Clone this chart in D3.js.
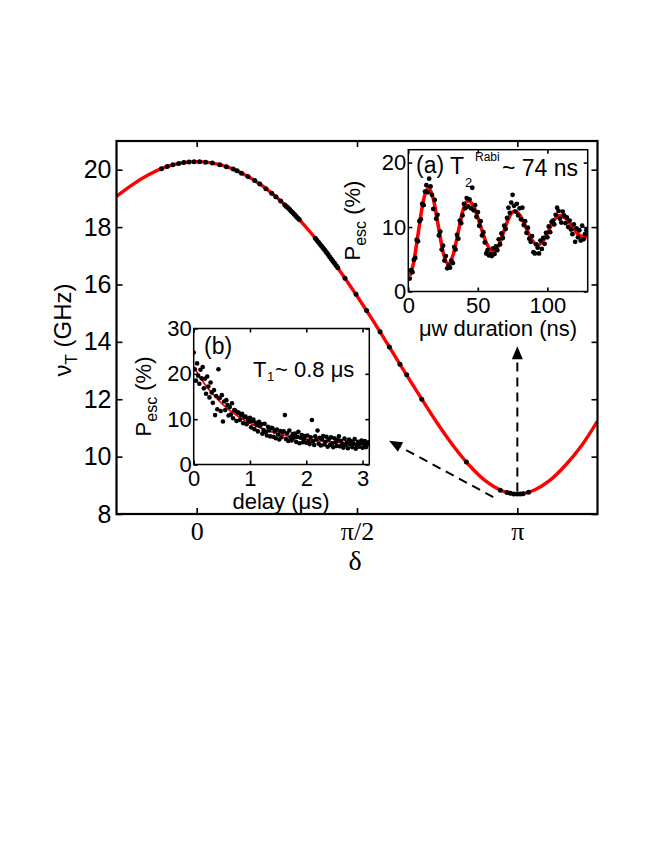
<!DOCTYPE html>
<html><head><meta charset="utf-8">
<script src="https://cdn.jsdelivr.net/npm/d3@7"></script>
<style>body{margin:0;background:#fff} svg{display:block}</style>
</head><body><div id="chart"></div>
<script>
// ---------------- DATA ----------------
// main curve: delta in units of pi, nu_T in GHz
const curveDelta = [-0.25,-0.2,-0.15,-0.1,-0.05,0,0.05,0.1,0.15,0.2,0.25,0.3,0.35,0.4,0.45,0.5,0.55,0.6,0.65,0.7,0.75,0.8,0.85,0.9,0.95,1.0,1.05,1.1,1.15,1.2,1.25];
const curveNu    = [19.07,19.48,19.82,20.08,20.23,20.28,20.23,20.08,19.82,19.48,19.03,18.50,17.88,17.19,16.42,15.60,14.74,13.84,12.93,12.04,11.17,10.38,9.70,9.16,8.82,8.70,8.82,9.16,9.70,10.38,11.24];
// measured points on main curve
const dotDelta = [-0.110,-0.092,-0.074,-0.056,-0.040,-0.024,-0.008,0.009,0.028,0.049,0.072,0.093,0.114,0.126,0.140,0.160,0.181,0.197,0.216,0.234,0.247,0.262,
  0.275,0.280,0.285,0.290,0.295,0.300,0.305,0.310,0.315,0.320,
  0.370,0.375,0.380,0.385,0.390,0.395,0.400,0.405,0.410,0.415,0.420,0.425,0.430,0.435,0.440,
  0.4625,0.497,0.530,0.572,0.601,0.634,0.655,0.702,0.841,0.947,0.968,0.978,0.989,1.000,1.009,1.018,1.035];
const dotNu = [20.03,20.11,20.17,20.22,20.25,20.27,20.28,20.28,20.26,20.23,20.17,20.10,20.02,19.96,19.88,19.76,19.62,19.50,19.34,19.18,19.06,18.91,
  18.77,18.72,18.67,18.61,18.55,18.50,18.44,18.38,18.32,18.26,
  17.61,17.54,17.47,17.40,17.33,17.26,17.19,17.11,17.04,16.96,16.89,16.81,16.74,16.66,16.58,
  16.22,15.66,15.09,14.35,13.82,13.22,12.85,12.00,9.81,8.83,8.75,8.72,8.70,8.70,8.70,8.71,8.76];
const mainXTicks = [0, 0.5, 1];
const mainXTickLabels = ["0", "\u03c0/2", "\u03c0"];
const mainYTicks = [8, 10, 12, 14, 16, 18, 20];

// inset (a): Rabi oscillation
const rabiCurveT = [1.2,3.6,7.2,10.8,14.4,18,21.55,25.1,28.7,32.3,35.85,39.4,43,47.5,52,56.5,61,64.9,68.75,72.6,76.5,80.6,84.75,88.9,93,97,101,105,109,113.4,117.75,122.1,126.5,129];
const rabiCurveP = [2.4,4.24,9.15,14.06,16.1,14.37,10.2,6.03,4.3,5.74,9.2,12.66,14.1,12.94,10.15,7.36,6.2,7.12,9.35,11.58,12.5,11.72,9.85,7.98,7.2,7.87,9.5,11.13,11.8,11.3,10.1,8.9,8.4,8.55];
const rabiT0 = 1, rabiDt = 1; // ns
const rabiP = [2.0,3.3,3.0,4.9,5.2,8.0,7.8,10.9,11.2,13.6,13.4,15.5,16.5,15.4,17.5,16.3,15.0,12.8,14.2,11.3,
  11.9,8.7,9.3,6.5,7.1,4.8,5.5,3.6,4.0,3.7,4.8,4.4,6.9,6.5,8.8,8.2,11.0,10.6,11.8,13.6,
  12.9,14.5,13.2,14.3,12.9,16.1,12.6,13.4,11.6,12.3,10.2,10.9,8.7,9.2,7.6,5.9,6.4,5.6,5.8,5.5,
  6.7,5.8,7.0,6.4,8.1,7.3,9.0,8.3,10.2,9.7,11.4,13.0,12.2,13.8,15.0,13.3,12.4,13.6,11.8,12.9,
  11.2,13.0,10.3,10.9,9.1,9.9,8.2,7.7,8.6,6.1,5.9,7.3,6.8,5.9,7.9,6.6,8.3,7.4,9.1,8.4,
  10.1,9.2,10.8,11.0,10.4,11.9,13.0,12.5,11.3,10.7,12.4,11.8,10.6,11.5,10.0,11.0,9.6,8.9,10.4,7.7,
  9.8,8.4,9.5,7.9,10.2,8.1,8.9,9.5];
const rabiXTicks = [0, 50, 100];
const rabiYTicks = [0, 10, 20];

// inset (b): T1 decay
const t1CurveT = [0,0.2,0.4,0.6,0.8,1.0,1.2,1.4,1.6,1.8,2.0,2.2,2.4,2.6,2.8,3.0,3.12];
const t1CurveP = [21.5,17.66,14.67,12.34,10.53,9.11,8.01,7.16,6.49,5.97,5.57,5.25,5.00,4.81,4.66,4.55,4.49];
const t1T0 = 0, t1Dt = 0.02; // us
const t1P = [24.7,21.0,18.5,22.3,19.6,17.8,20.9,19.0,21.5,16.8,
  18.9,15.6,19.4,17.2,14.8,18.1,15.9,13.6,16.4,10.9,
  15.1,12.2,21.0,14.6,11.8,15.3,9.5,13.9,12.0,14.2,
  13.1,10.8,12.7,11.0,13.5,10.2,12.0,11.9,9.6,11.5,
  11.4,9.8,10.9,11.2,9.1,10.5,10.6,8.9,10.1,9.5,
  10.3,8.2,9.6,9.9,7.8,9.2,8.8,7.3,9.4,8.5,
  8.9,6.8,7.6,9.0,7.1,6.4,8.3,7.5,6.2,8.1,
  8.0,6.1,7.3,5.8,7.7,6.6,5.5,7.4,6.0,7.1,
  7.3,10.9,5.6,6.9,5.2,7.5,6.0,5.3,6.7,5.9,
  6.8,5.0,6.1,7.2,4.7,5.9,6.5,4.9,5.6,6.3,
  4.8,6.4,5.2,4.5,6.0,9.8,5.1,4.3,6.2,5.5,
  7.5,4.6,5.9,4.2,5.6,6.3,4.4,5.0,6.1,3.9,
  5.5,4.3,6.0,4.7,3.8,5.8,4.9,4.1,5.4,6.2,
  4.0,5.2,4.5,3.7,5.7,4.3,4.9,3.6,5.5,4.4,
  5.1,3.8,4.6,5.6,3.5,4.2,5.0,3.9,4.7,5.3,
  3.7,4.5,5.2,3.8,4.4,4.9];
const t1XTicks = [0, 1, 2, 3];
const t1YTicks = [0, 10, 20, 30];

// annotation arrows (data units of main plot)
const arrowV = {from:[1.0, 8.78], to:[1.0, 13.85]};
const arrowD = {from:[0.925, 8.59], to:[0.600, 10.55]};

// ---------------- DRAWING ----------------
const W = 664, H = 860;
const SANS = "'Liberation Sans', Arial, Helvetica, sans-serif";
const SERIF = "'Liberation Serif', 'Times New Roman', serif";
const svg = d3.select('#chart').append('svg').attr('width', W).attr('height', H)
  .style('background', '#fff');
const defs = svg.append('defs');

const x = d3.scaleLinear().domain([-0.25, 1.25]).range([116.5, 597.5]);
const y = d3.scaleLinear().domain([8, 21]).range([514, 141]);

function styleAxis(g, font, size) {
  g.select('.domain').remove();
  g.selectAll('.tick line').attr('stroke', '#000').attr('stroke-width', 1.6);
  g.selectAll('text').attr('fill', '#000').style('font-family', font).style('font-size', size + 'px');
}

defs.append('clipPath').attr('id', 'clipMain')
  .append('rect').attr('x', x(-0.25)).attr('y', y(21)).attr('width', x(1.25) - x(-0.25)).attr('height', y(8) - y(21));

// main axes
svg.append('g').attr('transform', `translate(0,${y(8)})`)
  .call(d3.axisBottom(x).tickValues(mainXTicks).tickFormat((d, i) => mainXTickLabels[i]).tickSize(-6).tickPadding(8))
  .call(g => styleAxis(g, SERIF, 26));
svg.append('g').attr('transform', `translate(0,${y(21)})`)
  .call(d3.axisTop(x).tickValues(mainXTicks).tickFormat('').tickSize(-6))
  .call(g => styleAxis(g, SERIF, 26));
svg.append('g').attr('transform', `translate(${x(-0.25)},0)`)
  .call(d3.axisLeft(y).tickValues(mainYTicks).tickSize(-6).tickPadding(5))
  .call(g => styleAxis(g, SANS, 25));
svg.append('g').attr('transform', `translate(${x(1.25)},0)`)
  .call(d3.axisRight(y).tickValues(mainYTicks).tickFormat('').tickSize(-6))
  .call(g => styleAxis(g, SANS, 25));

// main curve
const mainLine = d3.line().x((d, i) => x(curveDelta[i])).y((d, i) => y(curveNu[i])).curve(d3.curveCatmullRom);
svg.append('path').attr('clip-path', 'url(#clipMain)').datum(curveDelta).attr('d', mainLine)
  .attr('fill', 'none').attr('stroke', '#ff0000').attr('stroke-width', 3.4);
svg.append('g').selectAll('circle').data(dotDelta).join('circle')
  .attr('cx', d => x(d)).attr('cy', (d, i) => y(dotNu[i])).attr('r', 2.5).attr('fill', '#000');

// arrows
function arrow(a) {
  const x1 = x(a.from[0]), y1 = y(a.from[1]), x2 = x(a.to[0]), y2 = y(a.to[1]);
  const ang = Math.atan2(y2 - y1, x2 - x1);
  const L = 13, hw = 5.5;
  const bx = x2 - L * Math.cos(ang), by = y2 - L * Math.sin(ang);
  svg.append('line').attr('x1', x1).attr('y1', y1).attr('x2', bx).attr('y2', by)
    .attr('stroke', '#000').attr('stroke-width', 2).attr('stroke-dasharray', '9,6');
  const px = -Math.sin(ang), py = Math.cos(ang);
  svg.append('path').attr('d', `M${x2},${y2}L${bx + hw * px},${by + hw * py}L${bx - hw * px},${by - hw * py}Z`).attr('fill', '#000');
}
arrow(arrowV);
arrow(arrowD);

// main frame
svg.append('rect').attr('x', x(-0.25)).attr('y', y(21)).attr('width', x(1.25) - x(-0.25)).attr('height', y(8) - y(21))
  .attr('fill', 'none').attr('stroke', '#000').attr('stroke-width', 2.2);

// main labels
svg.append('text').attr('x', (x(-0.25)+x(1.25))/2 - 2).attr('y', 570).attr('text-anchor', 'middle')
  .attr('fill', '#000').style('font-family', SERIF).style('font-size', '28px').text('\u03b4');
const yl = svg.append('text').attr('transform', 'translate(71,330) rotate(-90)').attr('text-anchor', 'middle')
  .attr('fill', '#000').style('font-family', SANS).style('font-size', '24px');
yl.append('tspan').text('\u03bd');
yl.append('tspan').attr('dy', 6).style('font-size', '17px').text('T');
yl.append('tspan').attr('dy', -6).text(' (GHz)');

// ---------------- insets ----------------
function inset(opt) {
  const xs = d3.scaleLinear().domain(opt.xd).range(opt.xr);
  const ys = d3.scaleLinear().domain(opt.yd).range(opt.yr);
  const g = svg.append('g');
  const id = 'clip' + opt.name;
  defs.append('clipPath').attr('id', id).append('rect')
    .attr('x', opt.xr[0]).attr('y', opt.yr[1]).attr('width', opt.xr[1] - opt.xr[0]).attr('height', opt.yr[0] - opt.yr[1]);
  g.append('rect').attr('x', opt.xr[0]).attr('y', opt.yr[1]).attr('width', opt.xr[1] - opt.xr[0]).attr('height', opt.yr[0] - opt.yr[1])
    .attr('fill', '#fff');
  g.append('g').attr('transform', `translate(0,${opt.yr[0]})`)
    .call(d3.axisBottom(xs).tickValues(opt.xt).tickFormat(d => String(d)).tickSize(-4).tickPadding(opt.xpad))
    .call(a => styleAxis(a, SANS, 22));
  g.append('g').attr('transform', `translate(0,${opt.yr[1]})`)
    .call(d3.axisTop(xs).tickValues(opt.xt).tickFormat('').tickSize(-4))
    .call(a => styleAxis(a, SANS, 22));
  g.append('g').attr('transform', `translate(${opt.xr[0]},0)`)
    .call(d3.axisLeft(ys).tickValues(opt.yt).tickFormat(d => String(d)).tickSize(-4).tickPadding(2))
    .call(a => styleAxis(a, SANS, 22));
  g.append('g').attr('transform', `translate(${opt.xr[1]},0)`)
    .call(d3.axisRight(ys).tickValues(opt.yt).tickFormat('').tickSize(-4))
    .call(a => styleAxis(a, SANS, 22));
  const pg = g.append('g').attr('clip-path', `url(#${id})`);
  const line = d3.line().x((d, i) => xs(opt.ct[i])).y((d, i) => ys(opt.cp[i])).curve(opt.curve);
  pg.append('path').datum(opt.ct).attr('d', line).attr('fill', 'none').attr('stroke', '#ff0000').attr('stroke-width', opt.lw);
  pg.append('g').selectAll('circle').data(opt.dp).join('circle')
    .attr('cx', (d, i) => xs(opt.t0 + i * opt.dt)).attr('cy', d => ys(d)).attr('r', opt.r).attr('fill', '#000');
  g.append('rect').attr('x', opt.xr[0]).attr('y', opt.yr[1]).attr('width', opt.xr[1] - opt.xr[0]).attr('height', opt.yr[0] - opt.yr[1])
    .attr('fill', 'none').attr('stroke', '#000').attr('stroke-width', 1.5);
  // y label
  const t = g.append('text').attr('transform', `translate(${opt.ylx},${(opt.yr[0] + opt.yr[1]) / 2}) rotate(-90)`)
    .attr('text-anchor', 'middle').attr('fill', '#000').style('font-family', SANS).style('font-size', '22px');
  t.append('tspan').text('P');
  t.append('tspan').attr('dy', 6).style('font-size', '16px').text('esc');
  t.append('tspan').attr('dy', -6).text(' (%)');
  g.append('text').attr('x', opt.xlx).attr('y', opt.xly).attr('text-anchor', 'middle').attr('fill', '#000')
    .style('font-family', SANS).style('font-size', '22px').text(opt.xlabel);
  return g;
}

const ga = inset({name: 'a', xd: [0, 129], xr: [408.3, 587.7], yd: [0, 22], yr: [291.5, 149.7],
  xt: rabiXTicks, yt: rabiYTicks, xpad: 6, ct: rabiCurveT, cp: rabiCurveP, curve: d3.curveMonotoneX, lw: 3.6, r: 2.4,
  dp: rabiP, t0: rabiT0, dt: rabiDt, ylx: 360, xlx: 498, xly: 336, xlabel: '\u03bcw duration (ns)'});
const gb = inset({name: 'b', xd: [0, 3.12], xr: [193.7, 369.3], yd: [0, 30], yr: [464.5, 328.5],
  xt: t1XTicks, yt: t1YTicks, xpad: 6, ct: t1CurveT, cp: t1CurveP, curve: d3.curveMonotoneX, lw: 1.8, r: 2.3,
  dp: t1P, t0: t1T0, dt: t1Dt, ylx: 151, xlx: 281, xly: 509, xlabel: 'delay (\u03bcs)'});

// inset annotations
const F = (s) => s + 'px';
function label(g, xx, yy, size, txt) {
  return g.append('text').attr('x', xx).attr('y', yy).attr('fill', '#000')
    .style('font-family', SANS).style('font-size', F(size)).text(txt);
}
label(ga, 416, 173, 23, '(a)');
label(ga, 450, 174, 23, 'T');
label(ga, 465, 187, 13, '2');
label(ga, 475, 161, 12, 'Rabi');
label(ga, 502, 176, 23, '~ 74 ns');

label(gb, 204, 354, 23, '(b)');
label(gb, 253, 377, 22, 'T');
label(gb, 267, 381, 13, '1');
label(gb, 275, 377, 22, '~ 0.8 \u03bcs');
</script>
</body></html>
